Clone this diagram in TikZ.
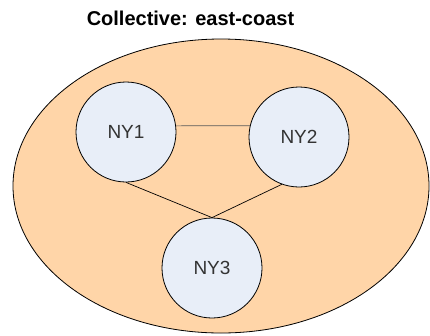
\documentclass[tikz,border=0pt]{standalone}
\usepackage{fontspec}
\setmainfont{Liberation Sans}
\usetikzlibrary{shapes.geometric}
\definecolor{peach}{HTML}{FFD5A8}
\definecolor{site}{HTML}{E8EEF8}

\begin{document}
\begin{tikzpicture}[x=1pt, y=-1pt,
  region/.style={ellipse, draw, line width=0.8pt, fill=peach, minimum width=416pt, minimum height=294pt},
  siteNode/.style={circle, draw, line width=0.8pt, fill=site, minimum size=100pt, inner sep=0pt, text=black!80, font=\fontsize{19}{22}\selectfont},
  heading/.style={font=\fontsize{20}{24}\selectfont\bfseries},
  link/.style={line width=0.7pt}
]
    \useasboundingbox (0,0) rectangle (430,335);

    % Collective
    \node[heading, anchor=base] (title) at (190.5,25) {Collective: east-coast};
    \node[region] (coast) at (221,186) {};

    % Sites
    \node[siteNode] (NY1) at (126,132) {NY1};
    \node[siteNode] (NY2) at (299,137) {NY2};
    \node[siteNode] (NY3) at (212,268) {NY3};

    % Links
    \draw[link, black!65] (NY1.7) -- (NY2.167);
    \draw[link] (NY1.south) -- (NY3.north);
    \draw[link] (NY2.250) -- (NY3.north);

\end{tikzpicture}
\end{document}
